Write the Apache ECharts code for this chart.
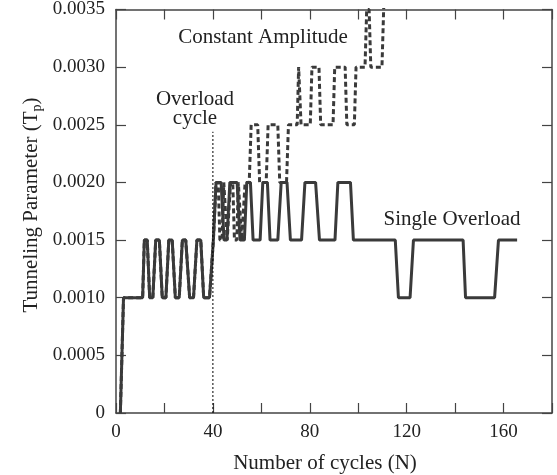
<!DOCTYPE html>
<html>
<head>
<meta charset="utf-8">
<script src="https://cdn.jsdelivr.net/npm/echarts@6/dist/echarts.min.js"></script>
<style>
html,body{margin:0;padding:0;background:#fff;}
#chart{width:557px;height:475px;}
</style>
</head>
<body>
<div id="chart"></div>
<script>
// Tick values
var xTicks = [0, 40, 80, 120, 160];
var yTickLabels = ['0', '0.0005', '0.0010', '0.0015', '0.0020', '0.0025', '0.0030', '0.0035'];

// Single Overload (solid)
var overloadCycles = [1.8, 3.1, 11.0, 11.7, 12.9, 13.9, 15.2, 16.4, 17.9, 19.1, 20.6, 21.8, 23.2, 24.5, 26.1, 27.4, 28.8, 30.4, 32.0, 33.4, 35.0, 36.2, 38.6, 40.2, 41.3,
  43.4, 44.6, 45.8, 47.0, 50.0, 51.2, 53.0, 54.0, 55.5, 56.6, 59.5, 60.6, 62.5, 63.6, 66.8, 68.2, 70.6, 72.0, 76.6, 78.0, 82.4, 84.0, 90.4, 91.6, 96.8, 98.0,
  115.3, 116.6, 121.4, 122.8, 143.3, 144.3, 156.3, 157.9, 165.6];
var overloadTp = [0, 0.0010, 0.0010, 0.0015, 0.0015, 0.0010, 0.0010, 0.0015, 0.0015, 0.0010, 0.0010, 0.0015, 0.0015, 0.0010, 0.0010, 0.0015, 0.0015, 0.0010, 0.0010, 0.0015, 0.0015, 0.0010, 0.0010, 0.0015, 0.0020,
  0.0020, 0.0015, 0.0015, 0.0020, 0.0020, 0.0015, 0.0015, 0.0020, 0.0020, 0.0015, 0.0015, 0.0020, 0.0020, 0.0015, 0.0015, 0.0020, 0.0020, 0.0015, 0.0015, 0.0020, 0.0020, 0.0015, 0.0015, 0.0020, 0.0020, 0.0015,
  0.0015, 0.0010, 0.0010, 0.0015, 0.0015, 0.0010, 0.0010, 0.0015, 0.0015];

// Constant Amplitude (dashed)
var constCycles = [1.8, 3.1, 11.0, 11.7, 12.9, 13.9, 15.2, 16.4, 17.9, 19.1, 20.6, 21.8, 23.2, 24.5, 26.1, 27.4, 28.8, 30.4, 32.0, 33.4, 35.0, 36.2, 38.6, 40.2, 41.3,
  42.2, 42.9, 43.8, 44.5, 45.2, 45.9, 46.7, 47.3, 48.2, 48.9, 49.9, 50.5, 51.2, 51.9, 52.7, 53.3, 55.0, 55.8, 58.5, 59.3, 62.0, 62.8, 66.8, 67.6, 70.4, 71.2, 74.8,
  75.4, 75.8, 76.4, 80.2, 80.9, 83.8, 84.5, 89.6, 90.3, 94.6, 95.3, 98.4, 99.1, 102.8, 103.5, 104.5, 105.2, 109.8, 110.5, 111.0];
var constTp = [0, 0.0010, 0.0010, 0.0015, 0.0015, 0.0010, 0.0010, 0.0015, 0.0015, 0.0010, 0.0010, 0.0015, 0.0015, 0.0010, 0.0010, 0.0015, 0.0015, 0.0010, 0.0010, 0.0015, 0.0015, 0.0010, 0.0010, 0.0015, 0.0020,
  0.0020, 0.0015, 0.0015, 0.0020, 0.0020, 0.0015, 0.0015, 0.0020, 0.0020, 0.0015, 0.0015, 0.0020, 0.0020, 0.0015, 0.0015, 0.0020, 0.0020, 0.0025, 0.0025, 0.0020, 0.0020, 0.0025, 0.0025, 0.0020, 0.0020, 0.0025, 0.0025,
  0.0030, 0.0030, 0.0025, 0.0025, 0.0030, 0.0030, 0.0025, 0.0025, 0.0030, 0.0030, 0.0025, 0.0025, 0.0030, 0.0030, 0.0035, 0.0035, 0.0030, 0.0030, 0.0035, 0.0038];

// Overload cycle marker
var overloadMarkCycles = [40, 40];
var overloadMarkTp = [0, 0.00244];

function zip(xs, ys) { return xs.map(function (x, i) { return [x, ys[i]]; }); }

var FONT = 'Liberation Serif';
var AX = '#444';
var TXT = '#222';
var LINE = '#3a3a3a';
var TFONT = '21px "Liberation Serif"';

var chart = echarts.init(document.getElementById('chart'), null, {renderer: 'canvas'});
var axisLineCommon = {show: true, onZero: false, lineStyle: {color: AX, width: 1.5}};
var axisTickCommon = {show: true, inside: true, length: 10, lineStyle: {color: AX, width: 1.2}};

function label(x, y, text) {
  return {type: 'text', x: x, y: y, style: {text: text, font: TFONT, fill: TXT, align: 'center', verticalAlign: 'middle', textAlign: 'center', textVerticalAlign: 'middle'}};
}

chart.setOption({
  animation: false,
  backgroundColor: '#fff',
  grid: {left: 116, right: 5, top: 9, bottom: 62, containLabel: false},
  xAxis: [
    {type: 'value', min: 0, max: 180, interval: 20, position: 'bottom',
     axisLine: axisLineCommon, axisTick: axisTickCommon, splitLine: {show: false},
     axisLabel: {margin: 10, fontSize: 19, fontFamily: FONT, color: TXT,
       formatter: function (v) { return xTicks.indexOf(v) >= 0 ? String(v) : ''; }}},
    {type: 'value', min: 0, max: 180, interval: 20, position: 'top',
     axisLine: axisLineCommon, axisTick: axisTickCommon, splitLine: {show: false},
     axisLabel: {show: false}}
  ],
  yAxis: [
    {type: 'value', min: 0, max: 0.0035, interval: 0.0005, position: 'left',
     axisLine: axisLineCommon, axisTick: axisTickCommon, splitLine: {show: false},
     axisLabel: {margin: 11, fontSize: 19, fontFamily: FONT, color: TXT,
       formatter: function (v) { var i = Math.round(v / 0.0005); return yTickLabels[i]; }}},
    {type: 'value', min: 0, max: 0.0035, interval: 0.0005, position: 'right',
     axisLine: axisLineCommon, axisTick: axisTickCommon, splitLine: {show: false},
     axisLabel: {show: false}}
  ],
  series: [
    {name: 'Constant Amplitude', type: 'line', xAxisIndex: 0, yAxisIndex: 0,
     data: zip(constCycles, constTp), showSymbol: false, clip: true,
     lineStyle: {color: LINE, width: 3, type: [5, 3]}},
    {name: 'Single Overload', type: 'line', xAxisIndex: 0, yAxisIndex: 0,
     data: zip(overloadCycles, overloadTp), showSymbol: false, clip: true,
     lineStyle: {color: LINE, width: 3, type: 'solid'}},
    {name: 'Overload cycle', type: 'line', xAxisIndex: 0, yAxisIndex: 0,
     data: zip(overloadMarkCycles, overloadMarkTp), showSymbol: false,
     lineStyle: {color: '#000', width: 1, type: [2, 2]}}
  ],
  graphic: [
    label(263, 37, 'Constant Amplitude'),
    label(195, 99, 'Overload'),
    label(195, 118, 'cycle'),
    label(452, 219, 'Single Overload'),
    label(325, 463, 'Number of cycles (N)'),
    {type: 'text', x: 31, y: 205, rotation: Math.PI / 2,
     style: {text: '{n|Tunneling Parameter (T}{s|p}{n|)}', fill: TXT, align: 'center', verticalAlign: 'middle', textAlign: 'center', textVerticalAlign: 'middle',
       rich: {
         n: {fontFamily: FONT, fontSize: 21, lineHeight: 27, color: TXT, verticalAlign: 'middle'},
         s: {fontFamily: FONT, fontSize: 14, lineHeight: 14, color: TXT, verticalAlign: 'bottom'}
       }}}
  ]
});
</script>
</body>
</html>
